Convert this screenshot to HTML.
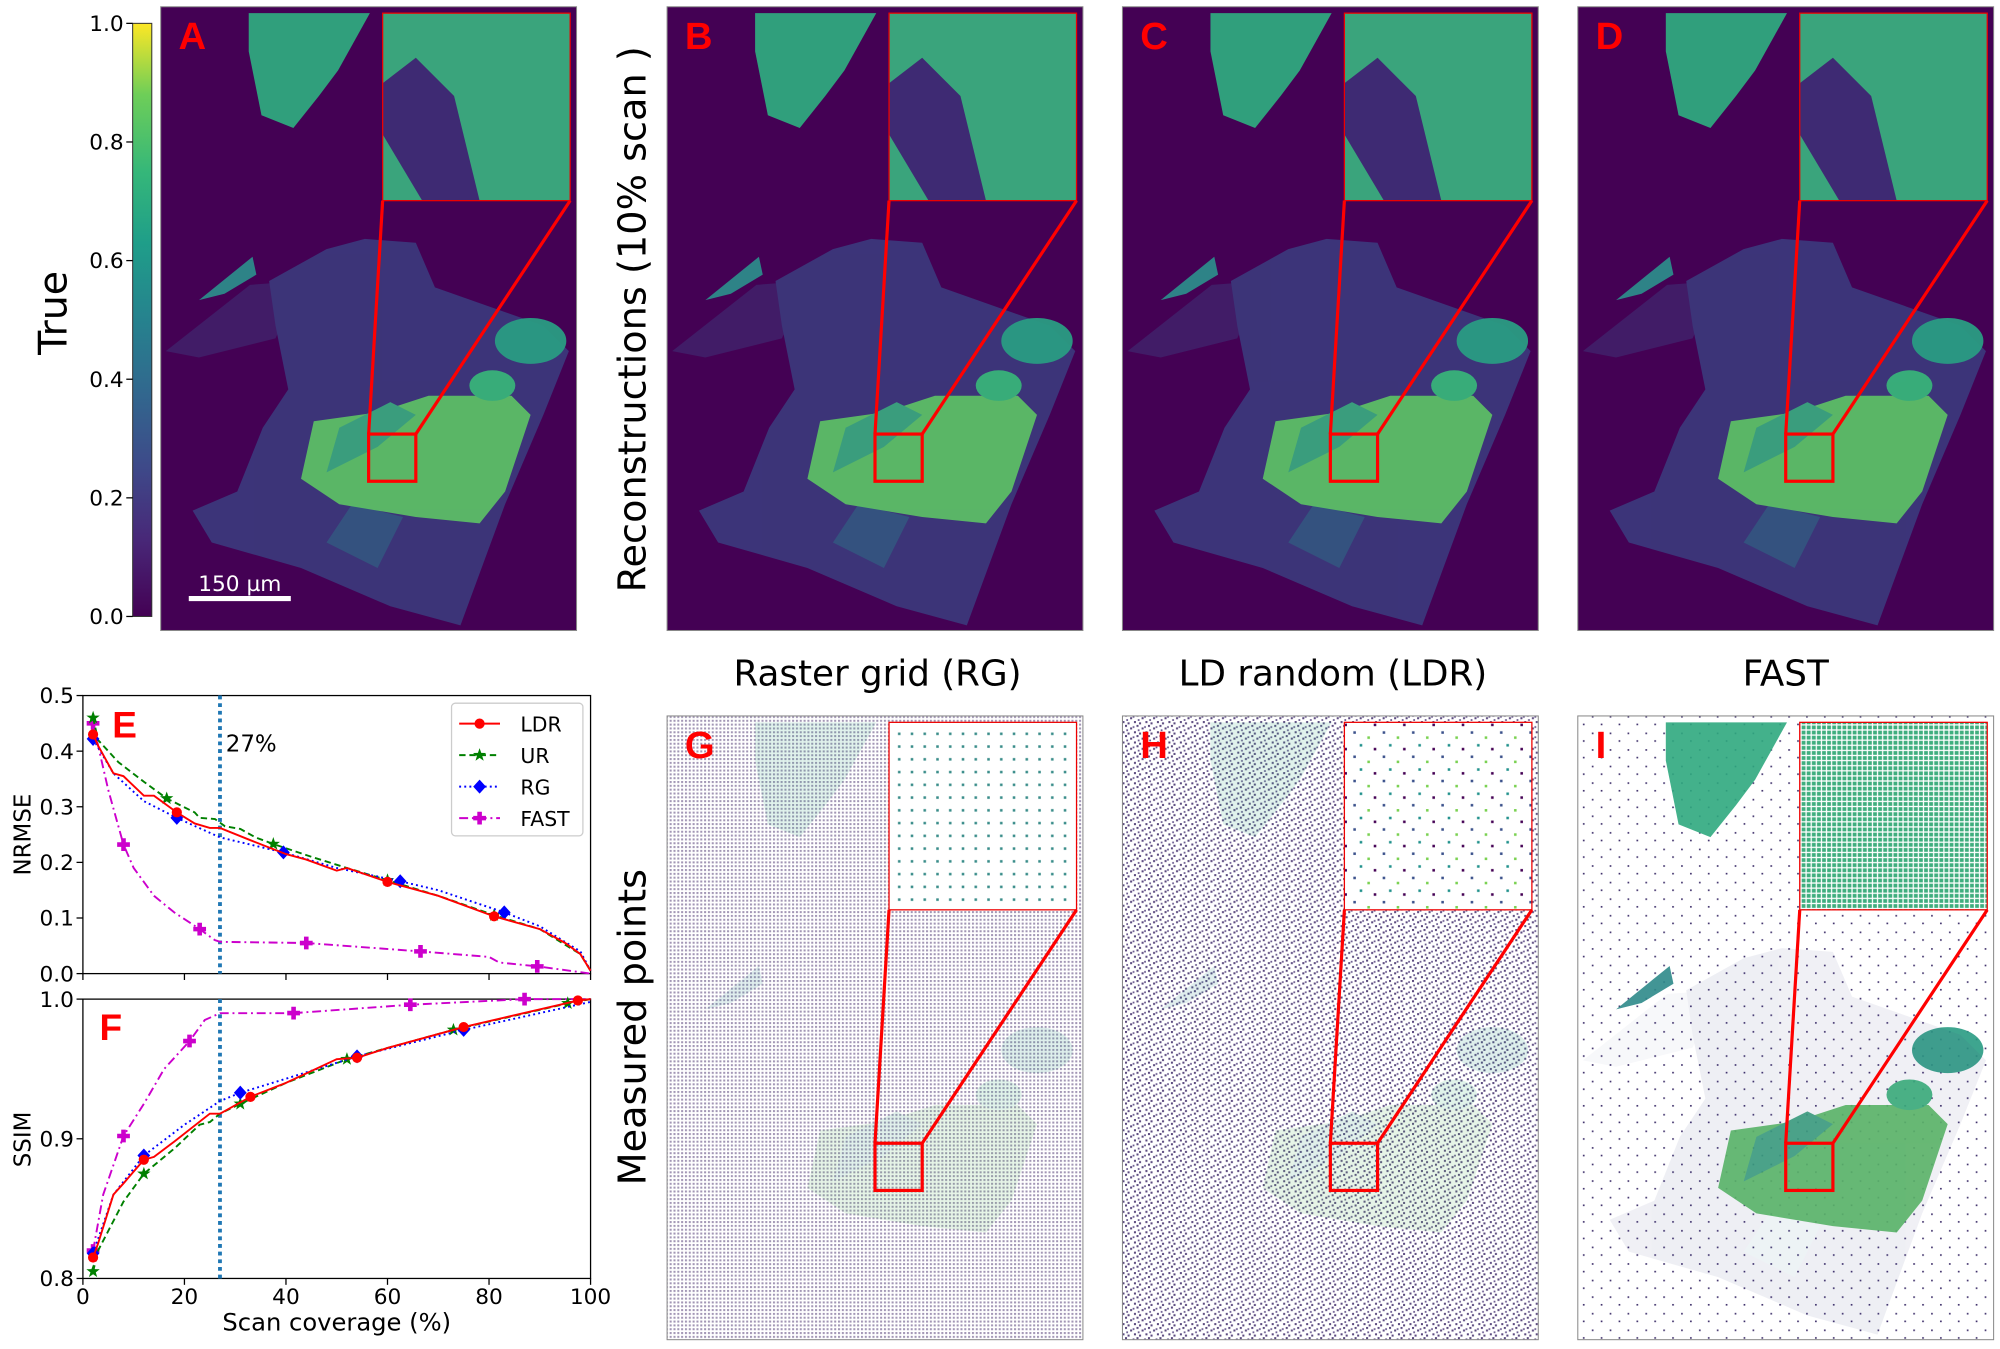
<!DOCTYPE html>
<html><head><meta charset="utf-8"><style>
html,body{margin:0;padding:0;background:#fff;}
svg{display:block;font-family:"DejaVu Sans","Liberation Sans",sans-serif;}
</style></head><body>
<svg id="s" width="2000" height="1349" viewBox="0 0 1568 1057" xmlns="http://www.w3.org/2000/svg">
<defs>
<linearGradient id="vir" x1="0" y1="1" x2="0" y2="0">
<stop offset="0" stop-color="#440154"/><stop offset="0.13" stop-color="#482878"/><stop offset="0.25" stop-color="#3e4989"/><stop offset="0.38" stop-color="#31688e"/><stop offset="0.5" stop-color="#26828e"/><stop offset="0.63" stop-color="#1f9e89"/><stop offset="0.75" stop-color="#35b779"/><stop offset="0.88" stop-color="#6ece58"/><stop offset="1" stop-color="#fde725"/>
</linearGradient>
<pattern id="pg" width="3" height="3" patternUnits="userSpaceOnUse"><rect width="3" height="3" fill="#fff"/><rect width="1.6" height="1.6" fill="#a296b5"/></pattern>
<pattern id="ph" width="9" height="8" patternUnits="userSpaceOnUse"><rect width="9" height="8" fill="#fff"/><rect x="0" y="0" width="1.6" height="1.6" fill="#5b4a7f"/><rect x="4" y="2" width="1.6" height="1.6" fill="#5b4a7f"/><rect x="7" y="5" width="1.6" height="1.6" fill="#5b4a7f"/><rect x="2" y="6" width="1.6" height="1.6" fill="#5b4a7f"/><rect x="6" y="1" width="1.4" height="1.4" fill="#6a5a8f"/><rect x="1" y="3.5" width="1.4" height="1.4" fill="#6a5a8f"/></pattern>
<pattern id="pi" width="14" height="13" patternUnits="userSpaceOnUse"><rect width="14" height="13" fill="#fff"/><rect x="2" y="2" width="1.3" height="1.3" fill="#3e2f6a"/><rect x="9" y="8" width="1.3" height="1.3" fill="#3e2f6a"/></pattern>
<pattern id="pgi" width="10" height="10" patternUnits="userSpaceOnUse"><rect width="10" height="10" fill="#fff"/><rect x="4" y="4" width="2" height="2" fill="#3a8d8a"/></pattern>
<pattern id="phi" width="23" height="19" patternUnits="userSpaceOnUse"><rect width="23" height="19" fill="#fff"/><rect x="3" y="3" width="2" height="2" fill="#3b518b"/><rect x="14" y="7" width="2" height="2" fill="#7ad151"/><rect x="8" y="13" width="2" height="2" fill="#21918c"/><rect x="19" y="16" width="2" height="2" fill="#440154"/></pattern>
<pattern id="pii" width="4" height="4" patternUnits="userSpaceOnUse"><rect width="4" height="4" fill="#fff"/><rect x="0.5" y="0.5" width="3" height="3" fill="#3fae7e"/></pattern>
<g id="tisDark">
 <polygon points="4,270 70,218 110,215 90,260 30,275" fill="#3b4a88" opacity="0.5"/>
 <polygon points="85,215 130,190 160,182 200,185 215,220 300,250 320,270 300,320 270,390 235,485 180,470 110,440 40,420 25,395 60,380 80,330 100,300 90,250" fill="#3a4585"/>
 <polygon points="150,390 190,400 170,440 130,420" fill="#2f6d8e"/>
</g>
<g id="tisBright">
 <polygon points="69,5 164,5 139,50 124,70 104,95 79,85 69,35" fill="#2fa87e"/>
 <polygon points="30,230 72,196 75,210 50,225" fill="#2d8a8a"/>
 <polygon points="120,325 170,318 210,305 275,305 290,320 270,380 250,405 200,400 140,390 110,370" fill="#5cbd66"/>
 <polygon points="140,330 180,310 200,320 170,345 130,365" fill="#3aa37e"/>
 <ellipse cx="290" cy="262" rx="28" ry="18" fill="#2a9c83"/>
 <ellipse cx="260" cy="297" rx="18" ry="12" fill="#38b37a"/>
</g>
</defs>
<rect width="1568" height="1057" fill="#fff"/>
<g id="root"></g>
</svg>
<script>
(function(){
const NS="http://www.w3.org/2000/svg";const root=document.getElementById('root');
function el(t,a,txt){const e=document.createElementNS(NS,t);for(const k in a)e.setAttribute(k,a[k]);if(txt!==undefined)e.textContent=txt;root.appendChild(e);return e;}
el('rect',{x:104,y:18,width:15,height:465,fill:'url(#vir)',stroke:'#333','stroke-width':0.8});
['1.0','0.8','0.6','0.4','0.2','0.0'].forEach((t,i)=>{const y=18+i*93;el('line',{x1:99,x2:104,y1:y,y2:y,stroke:'#000'});el('text',{x:97,y:y+6,'font-size':17,'text-anchor':'end'},t);});
el('text',{transform:'translate(52,245) rotate(-90)','font-size':31,'text-anchor':'middle'},'True');
el('text',{transform:'translate(506,250) rotate(-90)','font-size':30,'text-anchor':'middle'},'Reconstructions (10% scan )');
el('text',{transform:'translate(506,805) rotate(-90)','font-size':30,'text-anchor':'middle'},'Measured points');
[['Raster grid (RG)',688],['LD random (LDR)',1045],['FAST',1400]].forEach(a=>el('text',{x:a[1],y:537,'font-size':28,'text-anchor':'middle'},a[0]));
const topP=[[126,'A'],[523,'B'],[880,'C'],[1237,'D']];
const botP=[[523,'G','url(#pg)','url(#pgi)'],[880,'H','url(#ph)','url(#phi)'],[1237,'I','url(#pi)','url(#pii)']];
function zoomlines(px,py){
 el('rect',{x:px+174,y:py+5,width:147,height:147,fill:'none',stroke:'#e00',"stroke-width":1});
 el('rect',{x:px+163,y:py+335,width:37,height:37,fill:'none',stroke:'#f00',"stroke-width":2.5});
 el('line',{x1:px+163,y1:py+335,x2:px+174,y2:py+152,stroke:'#f00','stroke-width':2.5});
 el('line',{x1:px+200,y1:py+335,x2:px+321,y2:py+152,stroke:'#f00','stroke-width':2.5});
}
topP.forEach(([px,L],i)=>{const py=5;
 el('rect',{x:px,y:py,width:326,height:489,fill:'#440154',stroke:'#888','stroke-width':0.8});
 el('use',{href:'#tisDark',x:px,y:py,opacity:0.75});
 el('use',{href:'#tisBright',x:px,y:py,opacity:0.95});
 el('rect',{x:px+174,y:py+5,width:147,height:147,fill:'#3aa47c'});
 el('path',{d:`M${px+174},${py+60} L${px+200},${py+40} L${px+230},${py+70} L${px+250},${py+152} L${px+205},${py+152} L${px+174},${py+100}Z`,fill:'#3e2a73'});
 zoomlines(px,py);
 el('text',{x:px+14,y:py+33,'font-size':30,'font-weight':'bold',fill:'#f00','font-family':'Liberation Sans'},L);
});
el('line',{x1:148,x2:228,y1:469,y2:469,stroke:'#fff','stroke-width':4});
el('text',{x:188,y:463,'font-size':17,fill:'#fff','text-anchor':'middle'},'150 µm');
botP.forEach(([px,L,p,pin],i)=>{const py=561;
 el('rect',{x:px,y:py,width:326,height:489,fill:p,stroke:'#888','stroke-width':0.8});
 el('use',{href:'#tisBright',x:px,y:py,opacity:i<2?0.15:0.9});
 if(i==2){el('use',{href:'#tisDark',x:px,y:py,opacity:0.08});}
 el('rect',{x:px+174,y:py+5,width:147,height:147,fill:pin});
 zoomlines(px,py);
 el('text',{x:px+14,y:py+33,'font-size':30,'font-weight':'bold',fill:'#f00','font-family':'Liberation Sans'},L);
});
const X=v=>65+v*3.98;const YE=v=>763-436*v;const YF=v=>1002-1095*(v-0.8);
function axes(y0,y1){el('rect',{x:65,y:y0,width:398,height:y1-y0,fill:'none',stroke:'#000','stroke-width':1});}
axes(545,763);axes(783,1002);
['0.0','0.1','0.2','0.3','0.4','0.5'].forEach((t,i)=>{const y=YE(i/10);el('line',{x1:60,x2:65,y1:y,y2:y,stroke:'#000'});el('text',{x:58,y:y+6,'font-size':17,'text-anchor':'end'},t);});
[['0.8',0.8],['0.9',0.9],['1.0',1.0]].forEach(a=>{const y=YF(a[1]);el('line',{x1:60,x2:65,y1:y,y2:y,stroke:'#000'});el('text',{x:58,y:y+6,'font-size':17,'text-anchor':'end'},a[0]);});
[0,20,40,60,80,100].forEach(v=>{el('line',{x1:X(v),x2:X(v),y1:1002,y2:1007,stroke:'#000'});el('line',{x1:X(v),x2:X(v),y1:763,y2:768,stroke:'#000'});el('text',{x:X(v),y:1022,'font-size':17,'text-anchor':'middle'},String(v));});
el('text',{transform:'translate(24,654) rotate(-90)','font-size':18,'text-anchor':'middle'},'NRMSE');
el('text',{transform:'translate(24,893) rotate(-90)','font-size':18,'text-anchor':'middle'},'SSIM');
el('text',{x:264,y:1043,'font-size':19,'text-anchor':'middle'},'Scan coverage (%)');
el('line',{x1:X(27),x2:X(27),y1:545,y2:763,stroke:'#1f77b4','stroke-width':3,'stroke-dasharray':'3,3'});
el('line',{x1:X(27),x2:X(27),y1:783,y2:1002,stroke:'#1f77b4','stroke-width':3,'stroke-dasharray':'3,3'});
el('text',{x:177,y:589,'font-size':18},'27%');
el('text',{x:88,y:578,'font-size':29,'font-weight':'bold',fill:'#f00','font-family':'Liberation Sans'},'E');
el('text',{x:78,y:815,'font-size':29,'font-weight':'bold',fill:'#f00','font-family':'Liberation Sans'},'F');
const S={LDR:{c:'#f00',d:'',m:'o'},UR:{c:'#008000',d:'5,3',m:'*'},RG:{c:'#00f',d:'1.5,2.5',m:'D'},FAST:{c:'#c0c',d:'7,3,1.5,3',m:'P'}};
const E={LDR:[[2,.43],[3,.41],[6,.36],[8,.355],[12,.32],[14,.32],[18.5,.29],[22,.27],[25,.262],[27,.262],[33,.24],[40,.215],[44,.205],[50,.185],[52,.19],[60,.165],[70,.14],[81,.103],[90,.08],[95,.055],[98,.035],[100,.005]],
UR:[[2,.46],[3,.42],[7,.38],[12,.345],[16.5,.315],[22,.29],[23,.28],[26,.278],[28,.265],[31,.26],[34,.245],[37.5,.233],[45,.21],[52,.19],[60,.168],[70,.14],[81,.105],[90,.08],[98,.035],[100,.005]],
RG:[[2,.422],[6,.36],[12,.31],[18.5,.28],[27,.245],[39.5,.218],[50,.19],[62.5,.166],[70,.15],[83,.11],[90,.085],[98,.04],[100,.005]],
FAST:[[2,.45],[3,.41],[5,.33],[8,.232],[10,.19],[14,.14],[18,.11],[23,.08],[26,.06],[27,.057],[44,.055],[66.5,.04],[80,.03],[82,.02],[89.5,.013],[100,0]]};
const EM={LDR:[2,18.5,60,81],UR:[2,16.5,37.5,60,81],RG:[2,18.5,39.5,62.5,83],FAST:[2,8,23,44,66.5,89.5]};
const F={LDR:[[2,.815],[3,.825],[6,.86],[8,.868],[12,.885],[14,.887],[18,.898],[25,.918],[27,.918],[33,.93],[40,.94],[50,.957],[54,.958],[60,.965],[75,.98],[97.5,.999],[100,1]],
UR:[[2,.805],[3,.82],[8,.855],[12,.875],[18,.893],[23,.91],[25,.912],[27,.918],[31,.925],[40,.94],[52,.957],[62,.967],[73,.978],[95.5,.997],[100,1]],
RG:[[2,.818],[6,.86],[12,.888],[20,.91],[27,.927],[31,.933],[40,.943],[54,.959],[75,.978],[100,.998]],
FAST:[[2,.82],[4,.86],[8,.902],[12,.925],[16,.95],[21,.97],[24,.985],[27,.99],[41.5,.99],[64.5,.996],[87,1],[100,1]]};
const FM={LDR:[2,12,33,54,75,97.5],UR:[2,12,31,52,73,95.5],RG:[2,12,31,54,75],FAST:[2,8,21,41.5,64.5,87]};
function interp(d,x){for(let i=0;i<d.length-1;i++){if(x>=d[i][0]&&x<=d[i+1][0]){const t=(x-d[i][0])/(d[i+1][0]-d[i][0]||1);return d[i][1]+t*(d[i+1][1]-d[i][1]);}}return d[d.length-1][1];}
function marker(k,x,y){const c=S[k].c;const m=S[k].m;
 if(m=='o')el('circle',{cx:x,cy:y,r:4,fill:c});
 else if(m=='D')el('polygon',{points:`${x},${y-5.5} ${x+5},${y} ${x},${y+5.5} ${x-5},${y}`,fill:c});
 else if(m=='*'){let p=[];for(let i=0;i<10;i++){const r=i%2?2.2:5.5;const a=-Math.PI/2+i*Math.PI/5;p.push((x+r*Math.cos(a)).toFixed(1)+','+(y+r*Math.sin(a)).toFixed(1));}el('polygon',{points:p.join(' '),fill:c});}
 else el('path',{d:`M${x-5},${y-1.8}h3.2v-3.2h3.6v3.2h3.2v3.6h-3.2v3.2h-3.6v-3.2h-3.2z`,fill:c});}
function draw(D,M,Y){['FAST','UR','RG','LDR'].forEach(k=>{const pts=D[k].map(p=>X(p[0]).toFixed(1)+','+Y(p[1]).toFixed(1)).join(' ');
 const a={points:pts,fill:'none',stroke:S[k].c,'stroke-width':1.5};if(S[k].d)a['stroke-dasharray']=S[k].d;el('polyline',a);
 M[k].forEach(x=>marker(k,X(x),Y(interp(D[k],x))));});}
draw(E,EM,YE);draw(F,FM,YF);
el('rect',{x:354,y:551,width:103,height:104,fill:'#fff',stroke:'#ccc','stroke-width':1,rx:3});
['LDR','UR','RG','FAST'].forEach((k,i)=>{const y=567+i*24.7;const a={x1:360,x2:392,y1:y,y2:y,stroke:S[k].c,'stroke-width':1.5};if(S[k].d)a['stroke-dasharray']=S[k].d;el('line',a);marker(k,376,y);el('text',{x:408,y:y+6,'font-size':16},k);});
})();
</script>
</body></html>
